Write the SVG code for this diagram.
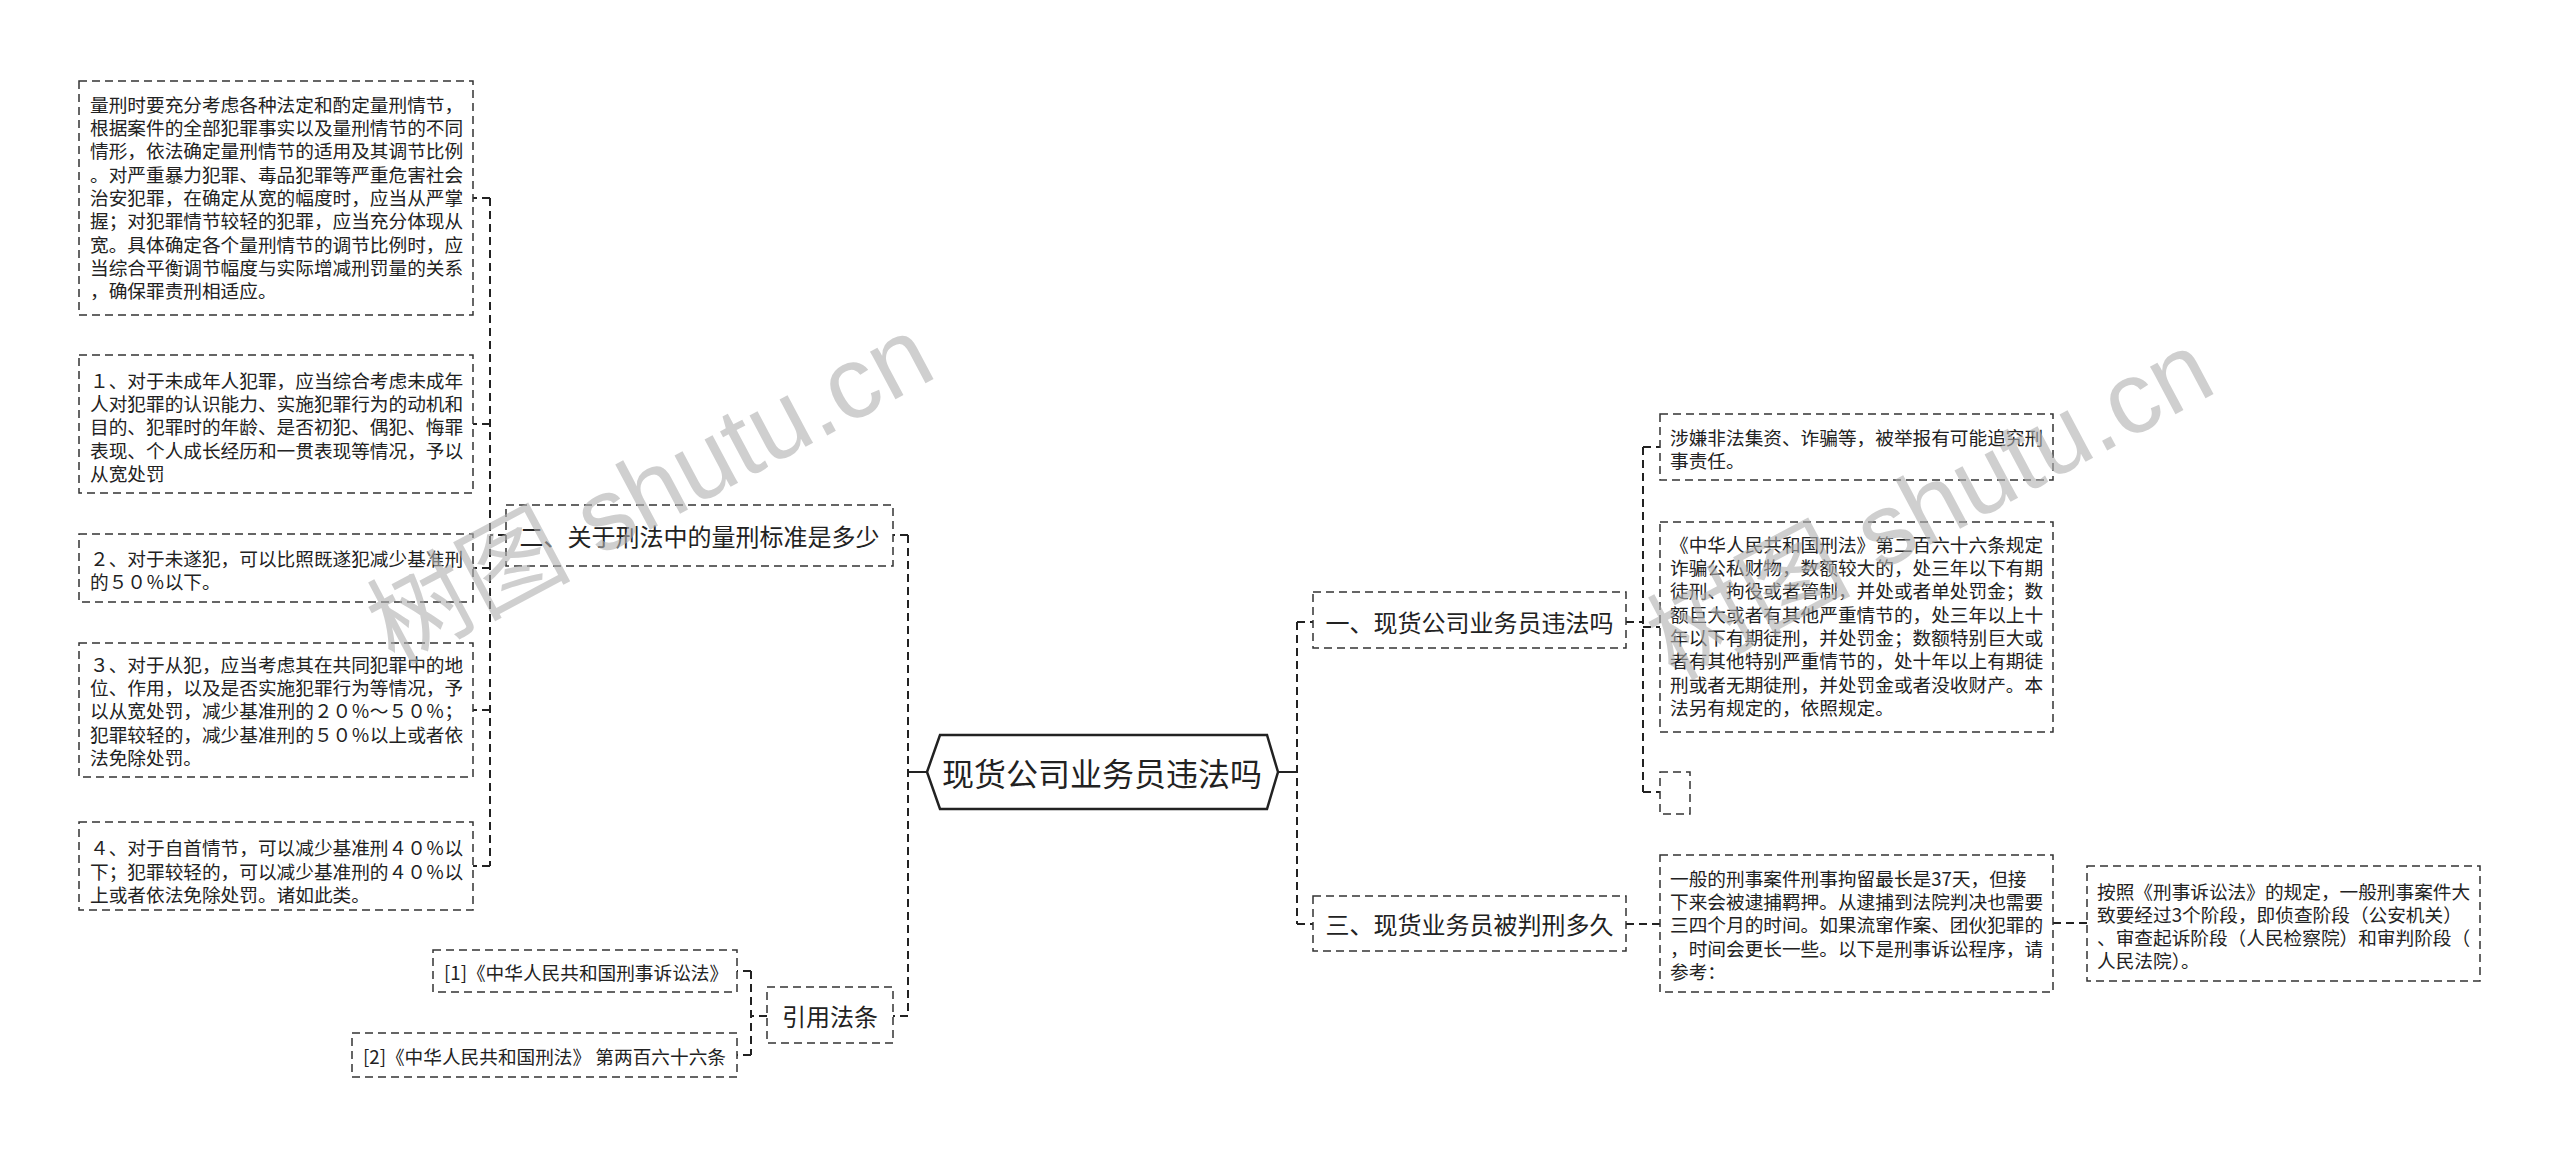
<svg xmlns="http://www.w3.org/2000/svg" width="2560" height="1156" viewBox="0 0 2560 1156">
<style>
.bg{fill:#ffffff}
.box{fill:#ffffff;stroke:#333333;stroke-width:1.5;stroke-dasharray:8 5}
.t{font-family:"Noto Sans CJK SC","Microsoft YaHei",sans-serif;font-size:18.67px;fill:#222222;dominant-baseline:central}
.tm{font-family:"Noto Sans CJK SC","Microsoft YaHei",sans-serif;font-size:24px;fill:#222222;dominant-baseline:central;text-anchor:middle}
.tc{font-family:"Noto Sans CJK SC","Microsoft YaHei",sans-serif;font-size:32px;fill:#222222;dominant-baseline:central;text-anchor:middle}
.dash{fill:none;stroke:#222222;stroke-width:2;stroke-dasharray:8 5}
.solid{fill:none;stroke:#222222;stroke-width:2}
.wm{font-family:"Liberation Sans","Noto Sans CJK SC",sans-serif;font-size:102px;fill:#b0b0b0;opacity:0.6;text-anchor:middle;dominant-baseline:central}
</style>
<rect class="bg" x="0" y="0" width="2560" height="1156"/>

<g id="connectors">
<path class="solid" d="M927,772 H908"/>
<path class="dash" d="M908,535 V1016"/>
<path class="dash" d="M908,535 H893"/>
<path class="dash" d="M908,1016 H893"/>
<path class="solid" d="M1278,772 H1297"/>
<path class="dash" d="M1297,622 V924"/>
<path class="dash" d="M1297,622 H1313"/>
<path class="dash" d="M1297,924 H1313"/>
<path class="dash" d="M506,535 H490"/>
<path class="dash" d="M490,198 V866"/>
<path class="dash" d="M490,198 H473"/>
<path class="dash" d="M490,424 H473"/>
<path class="dash" d="M490,568 H473"/>
<path class="dash" d="M490,710 H473"/>
<path class="dash" d="M490,866 H473"/>
<path class="dash" d="M767,1016 H751"/>
<path class="dash" d="M751,971 V1055"/>
<path class="dash" d="M751,971 H737"/>
<path class="dash" d="M751,1055 H737"/>
<path class="dash" d="M1626,622 H1643"/>
<path class="dash" d="M1643,447 V792"/>
<path class="dash" d="M1643,447 H1660"/>
<path class="dash" d="M1643,627 H1660"/>
<path class="dash" d="M1643,792 H1660"/>
<path class="dash" d="M1626,924 H1660"/>
<path class="dash" d="M2053,923 H2087"/>
</g>

<g id="center">
<polygon points="927,772 940,735 1267,735 1278,772 1267,809 940,809" fill="#ffffff" stroke="#222222" stroke-width="2.5"/>
<text class="tc" x="1102" y="772">现货公司业务员违法吗</text>
</g>

<g id="n2">
<rect class="box" x="506" y="505" width="387" height="61"/>
<text class="tm" x="699.5" y="535">二、关于刑法中的量刑标准是多少</text>
</g>

<g id="n2a">
<rect class="box" x="79" y="81" width="394" height="234"/>
<text class="t" x="90" y="103.3">量刑时要充分考虑各种法定和酌定量刑情节，</text>
<text class="t" x="90" y="126.6">根据案件的全部犯罪事实以及量刑情节的不同</text>
<text class="t" x="90" y="149.9">情形，依法确定量刑情节的适用及其调节比例</text>
<text class="t" x="90" y="173.2">。对严重暴力犯罪、毒品犯罪等严重危害社会</text>
<text class="t" x="90" y="196.5">治安犯罪，在确定从宽的幅度时，应当从严掌</text>
<text class="t" x="90" y="219.8">握；对犯罪情节较轻的犯罪，应当充分体现从</text>
<text class="t" x="90" y="243.1">宽。具体确定各个量刑情节的调节比例时，应</text>
<text class="t" x="90" y="266.4">当综合平衡调节幅度与实际增减刑罚量的关系</text>
<text class="t" x="90" y="289.7">，确保罪责刑相适应。</text>
</g>

<g id="n2b">
<rect class="box" x="79" y="355" width="394" height="138"/>
<text class="t" x="90" y="379.3">１、对于未成年人犯罪，应当综合考虑未成年</text>
<text class="t" x="90" y="402.6">人对犯罪的认识能力、实施犯罪行为的动机和</text>
<text class="t" x="90" y="425.9">目的、犯罪时的年龄、是否初犯、偶犯、悔罪</text>
<text class="t" x="90" y="449.2">表现、个人成长经历和一贯表现等情况，予以</text>
<text class="t" x="90" y="472.5">从宽处罚</text>
</g>

<g id="n2c">
<rect class="box" x="79" y="534" width="394" height="68"/>
<text class="t" x="90" y="557.5">２、对于未遂犯，可以比照既遂犯减少基准刑</text>
<text class="t" x="90" y="580.8">的５０％以下。</text>
</g>

<g id="n2d">
<rect class="box" x="79" y="643" width="394" height="134"/>
<text class="t" x="90" y="663.3">３、对于从犯，应当考虑其在共同犯罪中的地</text>
<text class="t" x="90" y="686.6">位、作用，以及是否实施犯罪行为等情况，予</text>
<text class="t" x="90" y="709.9">以从宽处罚，减少基准刑的２０％～５０％；</text>
<text class="t" x="90" y="733.2">犯罪较轻的，减少基准刑的５０％以上或者依</text>
<text class="t" x="90" y="756.5">法免除处罚。</text>
</g>

<g id="n2e">
<rect class="box" x="79" y="822" width="394" height="88"/>
<text class="t" x="90" y="846.7">４、对于自首情节，可以减少基准刑４０％以</text>
<text class="t" x="90" y="870">下；犯罪较轻的，可以减少基准刑的４０％以</text>
<text class="t" x="90" y="893.3">上或者依法免除处罚。诸如此类。</text>
</g>

<g id="n4">
<rect class="box" x="767" y="987" width="126" height="56"/>
<text class="tm" x="830" y="1015">引用法条</text>
</g>

<g id="n4a">
<rect class="box" x="433" y="950" width="304" height="42"/>
<text class="t" x="444" y="971">[1]《中华人民共和国刑事诉讼法》</text>
</g>

<g id="n4b">
<rect class="box" x="352" y="1033" width="385" height="44"/>
<text class="t" x="363" y="1055">[2]《中华人民共和国刑法》 第两百六十六条</text>
</g>

<g id="n1">
<rect class="box" x="1313" y="592" width="313" height="56"/>
<text class="tm" x="1469.5" y="621">一、现货公司业务员违法吗</text>
</g>

<g id="n1a">
<rect class="box" x="1660" y="414" width="393" height="66"/>
<text class="t" x="1670" y="436">涉嫌非法集资、诈骗等，被举报有可能追究刑</text>
<text class="t" x="1670" y="459.3">事责任。</text>
</g>

<g id="n1b">
<rect class="box" x="1660" y="522" width="393" height="210"/>
<text class="t" x="1670" y="543.3">《中华人民共和国刑法》第二百六十六条规定</text>
<text class="t" x="1670" y="566.6">诈骗公私财物，数额较大的，处三年以下有期</text>
<text class="t" x="1670" y="589.9">徒刑、拘役或者管制，并处或者单处罚金；数</text>
<text class="t" x="1670" y="613.2">额巨大或者有其他严重情节的，处三年以上十</text>
<text class="t" x="1670" y="636.5">年以下有期徒刑，并处罚金；数额特别巨大或</text>
<text class="t" x="1670" y="659.8">者有其他特别严重情节的，处十年以上有期徒</text>
<text class="t" x="1670" y="683.1">刑或者无期徒刑，并处罚金或者没收财产。本</text>
<text class="t" x="1670" y="706.4">法另有规定的，依照规定。</text>
</g>

<g id="n1c">
<rect class="box" x="1660" y="772" width="30" height="42"/>
</g>

<g id="n3">
<rect class="box" x="1313" y="896" width="313" height="55"/>
<text class="tm" x="1469.5" y="923">三、现货业务员被判刑多久</text>
</g>

<g id="n3a">
<rect class="box" x="1660" y="855" width="393" height="137"/>
<text class="t" x="1670" y="877.3">一般的刑事案件刑事拘留最长是37天，但接</text>
<text class="t" x="1670" y="900.6">下来会被逮捕羁押。从逮捕到法院判决也需要</text>
<text class="t" x="1670" y="923.9">三四个月的时间。如果流窜作案、团伙犯罪的</text>
<text class="t" x="1670" y="947.2">，时间会更长一些。以下是刑事诉讼程序，请</text>
<text class="t" x="1670" y="970.5">参考：</text>
</g>

<g id="n3b">
<rect class="box" x="2087" y="866" width="393" height="115"/>
<text class="t" x="2097" y="890">按照《刑事诉讼法》的规定，一般刑事案件大</text>
<text class="t" x="2097" y="913.3">致要经过3个阶段，即侦查阶段（公安机关）</text>
<text class="t" x="2097" y="936.6">、审查起诉阶段（人民检察院）和审判阶段（</text>
<text class="t" x="2097" y="959.9">人民法院）。</text>
</g>

<g id="watermarks">
<text class="wm" transform="translate(650,490) rotate(-28)">树图 shutu.cn</text>
<text class="wm" transform="translate(1930,505) rotate(-28)">树图 shutu.cn</text>
</g>
</svg>
